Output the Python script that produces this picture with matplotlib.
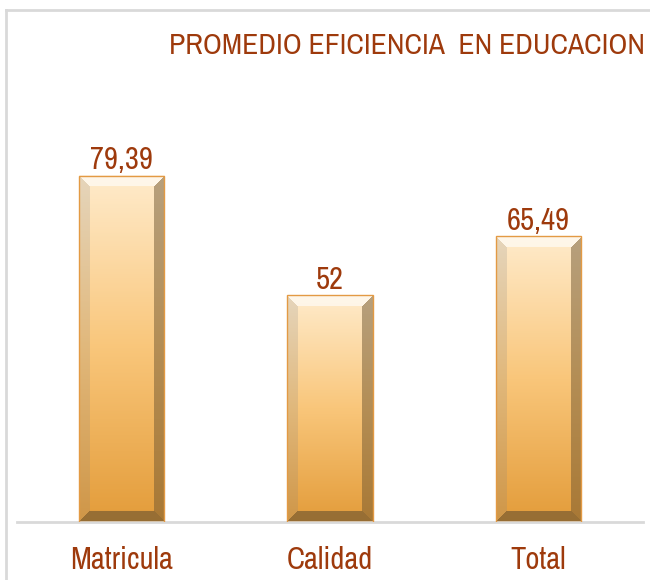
import matplotlib.pyplot as plt
import numpy as np
from matplotlib.colors import to_rgb
from matplotlib.lines import Line2D

categorias = ['Matricula', 'Calidad', 'Total']
valores = [79.39, 52, 65.49]
etiquetas = ['79,39', '52', '65,49']
titulo = 'PROMEDIO EFICIENCIA  EN EDUCACION'

rojo = '#9E3A0C'
gris = '#D9D9D9'
fuente = ['Archivo Narrow', 'Liberation Sans', 'DejaVu Sans']
ancho = 0.41


def barra_biselada(nx, ny, b):
    # imagen RGB de una barra con bisel (estilo Excel)
    yy, xx = np.mgrid[0:ny, 0:nx]
    t = yy / max(ny - 1, 1)
    arriba = np.array(to_rgb('#FFEBCB'))
    medio = np.array(to_rgb('#F9C67A'))
    abajo = np.array(to_rgb('#E39C3A'))
    t1 = np.clip(t / 0.5, 0, 1)[..., None]
    t2 = np.clip((t - 0.5) / 0.5, 0, 1)[..., None]
    img = np.where(t[..., None] < 0.5, arriba * (1 - t1) + medio * t1, medio * (1 - t2) + abajo * t2)
    d = np.stack([yy, ny - 1 - yy, xx, nx - 1 - xx])
    lado = np.argmin(d, axis=0)
    borde = d.min(axis=0) < b
    blanco = np.ones(3)
    marron = np.array(to_rgb('#6E5530'))
    sup = borde & (lado == 0)
    inf = borde & (lado == 1)
    izq = borde & (lado == 2)
    der = borde & (lado == 3)
    img[sup] = img[sup] * 0.4 + blanco * 0.6
    img[izq] = img[izq] * 0.8 + blanco * 0.1
    img[der] = img[der] * 0.5 + marron * 0.5
    img[inf] = img[inf] * 0.35 + marron * 0.65
    return img


fig = plt.figure(figsize=(6.5, 5.8), dpi=100)
fig.patch.set_facecolor('white')
ax = fig.add_axes([17 / 650, 58 / 580, 626 / 650, 512 / 580])
x = np.arange(len(categorias))
ax.set_xlim(-0.5, len(categorias) - 0.5)
ax.set_ylim(0, 117.4)

for xi, v in zip(x, valores):
    p0 = ax.transData.transform((xi - ancho / 2, 0))
    p1 = ax.transData.transform((xi + ancho / 2, v))
    nx = int(round(p1[0] - p0[0]))
    ny = int(round(p1[1] - p0[1]))
    ax.imshow(barra_biselada(nx, ny, 11), extent=(xi - ancho / 2, xi + ancho / 2, 0, v),
              aspect='auto', interpolation='bilinear', zorder=2)

ax.bar(x, valores, width=ancho, facecolor='none', edgecolor='#E39A44', linewidth=1, zorder=3)
ax.set_xlim(-0.5, len(categorias) - 0.5)
ax.set_ylim(0, 117.4)

for xi, v, et in zip(x, valores, etiquetas):
    ax.annotate(et, (xi, v), xytext=(0, 1), textcoords='offset points', ha='center', va='bottom',
                fontsize=22, color=rojo, family=fuente)

ax.set_xticks(x)
ax.set_xticklabels(categorias, fontsize=22, color=rojo, family=fuente)
ax.tick_params(axis='x', length=0, pad=17)
ax.set_yticks([])
for s in ['top', 'right', 'left']:
    ax.spines[s].set_visible(False)
ax.spines['bottom'].set_color(gris)
ax.spines['bottom'].set_linewidth(2)

fig.text(645 / 650, 1 - 45 / 580, titulo, ha='right', va='center', fontsize=21.3, color=rojo, family=fuente)

# marco gris del gráfico
fig.add_artist(Line2D([6 / 650, 1], [1 - 10 / 580] * 2, transform=fig.transFigure, color=gris, lw=2))
fig.add_artist(Line2D([6 / 650] * 2, [0, 1 - 10 / 580], transform=fig.transFigure, color=gris, lw=2))

fig.savefig('out.png', dpi=100)
